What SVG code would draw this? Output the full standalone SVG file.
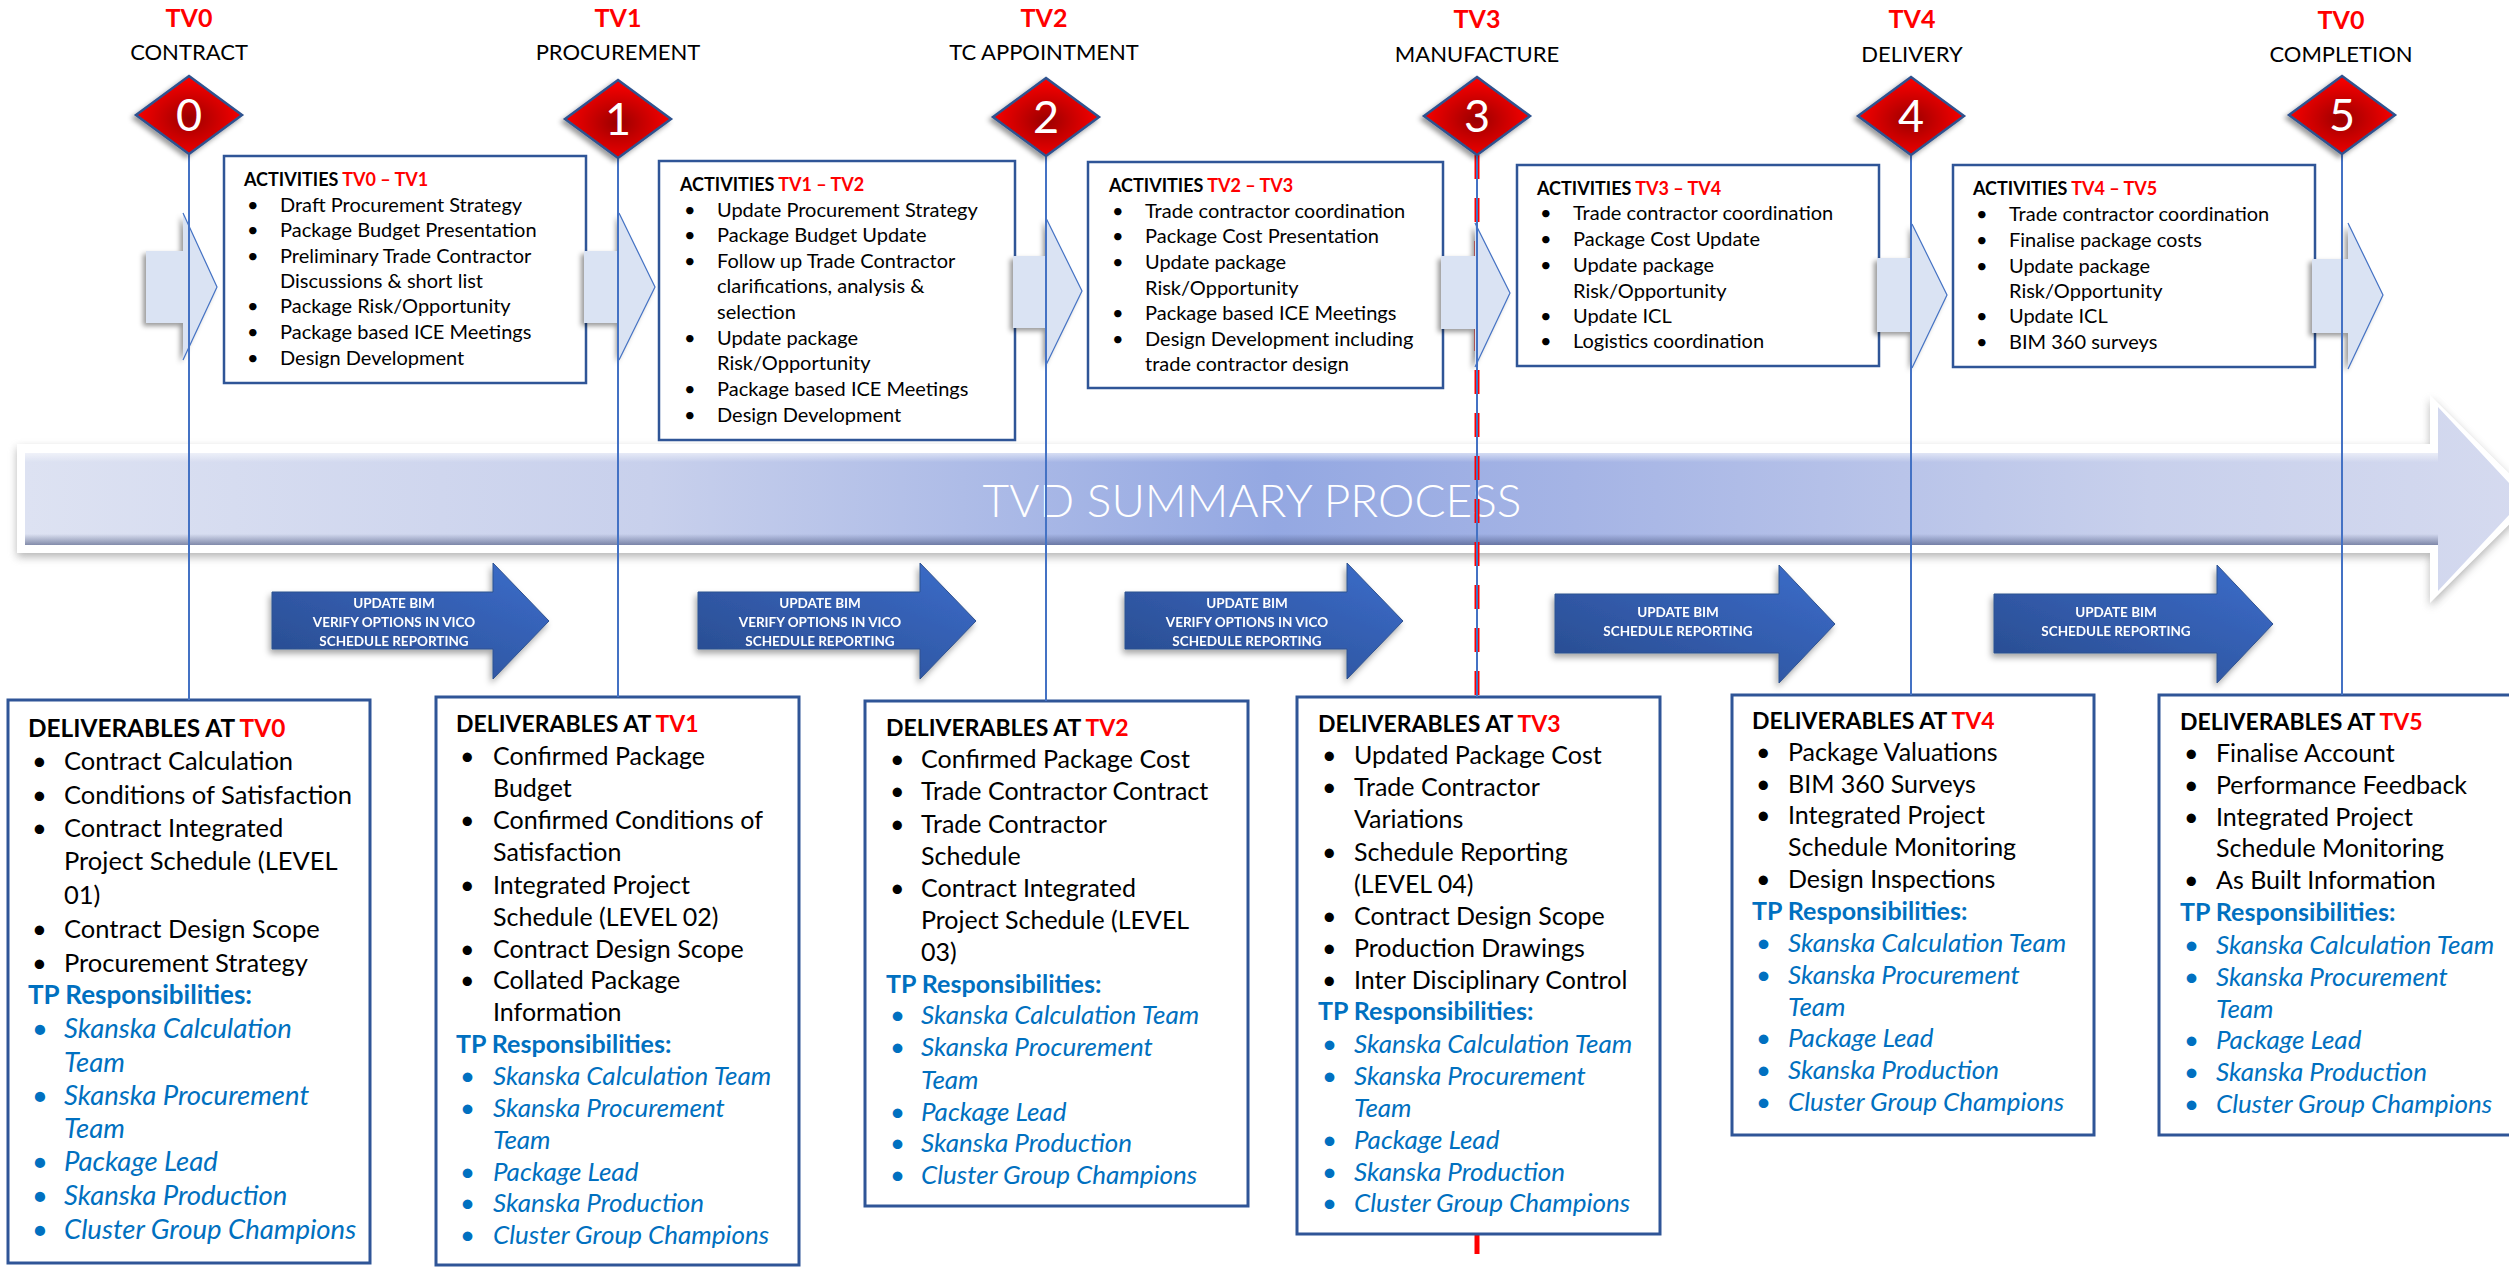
<svg xmlns="http://www.w3.org/2000/svg" width="2509" height="1268" viewBox="0 0 2509 1268">
<style>
text{font-family:Lato,"Liberation Sans",sans-serif;fill:#000}
.lbl{font-size:22px;text-anchor:middle}
.tv{font-size:25px;font-weight:700;fill:#FF0000;text-anchor:middle}
.dig{font-size:45px;fill:#fff;text-anchor:middle}
.act{font-size:20px}
.acth{font-size:18px;font-weight:700}
.del{font-size:25px}
.del0{font-size:25.5px}
.delh{font-size:23px;font-weight:700}
.tp{font-size:25px;font-weight:700;fill:#0070C0}
.tpi{font-size:26px;font-style:italic;fill:#0070C0}
.r{fill:#FF0000}
.arr{font-size:13.5px;font-weight:700;fill:#fff;text-anchor:middle}
.big{font-size:46px;font-weight:300;fill:#fff;text-anchor:middle}
.box{fill:#fff;stroke:#2F5597;stroke-width:3}
.abox{fill:#fff;stroke:#2F5597;stroke-width:2.5}
.chev{fill:#DAE3F3}
.chevl{fill:none;stroke:#4472C4;stroke-width:1.2}
.dark{fill:url(#dk);stroke:#2F528F;stroke-width:1}
.dia{fill:url(#dg);stroke:#2F528F;stroke-width:2.5}
.vl{stroke:#4472C4;stroke-width:2;fill:none}
</style>
<defs>
<radialGradient id="dg" cx="0.5" cy="0.55" r="0.55">
<stop offset="0" stop-color="#9A0000"/>
<stop offset="0.4" stop-color="#C40000"/>
<stop offset="1" stop-color="#FF0000"/>
</radialGradient>
<linearGradient id="dk" x1="0" y1="1" x2="1" y2="0">
<stop offset="0" stop-color="#284A8C"/>
<stop offset="1" stop-color="#3C6DCB"/>
</linearGradient>
<linearGradient id="bigg" gradientUnits="userSpaceOnUse" x1="25" y1="0" x2="2525" y2="0">
<stop offset="0" stop-color="#DDE2F2"/>
<stop offset="0.25" stop-color="#C8D0EC"/>
<stop offset="0.5" stop-color="#94A8E2"/>
<stop offset="0.62" stop-color="#A5B4E5"/>
<stop offset="0.85" stop-color="#C8D0EC"/>
<stop offset="1" stop-color="#D5DAEF"/>
</linearGradient>
<linearGradient id="bev" x1="0" y1="0" x2="0" y2="1">
<stop offset="0" stop-color="#FFFFFF" stop-opacity="0.55"/>
<stop offset="0.1" stop-color="#FFFFFF" stop-opacity="0"/>
<stop offset="0.88" stop-color="#3A4670" stop-opacity="0"/>
<stop offset="1" stop-color="#3A4670" stop-opacity="0.55"/>
</linearGradient>
<filter id="blur" x="-5%" y="-30%" width="110%" height="160%"><feGaussianBlur stdDeviation="4"/></filter>
<filter id="sh" x="-30%" y="-30%" width="160%" height="160%"><feDropShadow dx="-3" dy="3" stdDeviation="2.5" flood-color="#000" flood-opacity="0.4"/></filter>
<filter id="sh2" x="-30%" y="-30%" width="160%" height="160%"><feDropShadow dx="-2" dy="4" stdDeviation="3" flood-color="#000" flood-opacity="0.35"/></filter>
</defs>

<g id="summary-arrow">
<polygon points="17,444 2430,444 2430,395 2535,499 2430,603 2430,553 17,553" fill="#7A7A7A" opacity="0.55" transform="translate(0,4)" filter="url(#blur)"/>
<polygon points="17,444 2430,444 2430,395 2535,499 2430,603 2430,553 17,553" fill="#FFFFFF"/>
<polygon points="25,453 2438,453 2438,407 2524,499 2438,591 2438,545 25,545" fill="url(#bigg)"/>
<rect x="25" y="453" width="2413" height="92" fill="url(#bev)"/>
<text class="big" x="1252" y="517">TVD SUMMARY PROCESS</text>
</g>

<g id="tv3-marker">
<line x1="1477" y1="155" x2="1477" y2="1268" stroke="#FF0000" stroke-width="5" stroke-dasharray="24 19"/>
</g>

<g id="bim-arrows">
<g id="bim1" filter="url(#sh2)">
<polygon class="dark" points="272,592 493,592 493,563 549,621 493,679 493,649 272,649"/>
<text class="arr" x="394" y="608">UPDATE BIM</text>
<text class="arr" x="394" y="627">VERIFY OPTIONS IN VICO</text>
<text class="arr" x="394" y="646">SCHEDULE REPORTING</text>
</g>
<g id="bim2" filter="url(#sh2)">
<polygon class="dark" points="698,592 920,592 920,563 976,621 920,679 920,649 698,649"/>
<text class="arr" x="820" y="608">UPDATE BIM</text>
<text class="arr" x="820" y="627">VERIFY OPTIONS IN VICO</text>
<text class="arr" x="820" y="646">SCHEDULE REPORTING</text>
</g>
<g id="bim3" filter="url(#sh2)">
<polygon class="dark" points="1125,592 1347,592 1347,563 1403,621 1347,679 1347,649 1125,649"/>
<text class="arr" x="1247" y="608">UPDATE BIM</text>
<text class="arr" x="1247" y="627">VERIFY OPTIONS IN VICO</text>
<text class="arr" x="1247" y="646">SCHEDULE REPORTING</text>
</g>
<g id="bim4" filter="url(#sh2)">
<polygon class="dark" points="1555,594 1779,594 1779,565 1835,624 1779,683 1779,653 1555,653"/>
<text class="arr" x="1678" y="617">UPDATE BIM</text>
<text class="arr" x="1678" y="636">SCHEDULE REPORTING</text>
</g>
<g id="bim5" filter="url(#sh2)">
<polygon class="dark" points="1994,594 2217,594 2217,565 2273,624 2217,683 2217,653 1994,653"/>
<text class="arr" x="2116" y="617">UPDATE BIM</text>
<text class="arr" x="2116" y="636">SCHEDULE REPORTING</text>
</g>
</g>

<g id="activities-tv0-tv1">
<rect class="abox" x="224" y="156" width="362" height="227"/>
<text class="acth" x="244" y="186">ACTIVITIES <tspan class="r">TV0 – TV1</tspan></text>
<text class="act"><tspan x="247" y="212">•</tspan><tspan x="280" y="212">Draft Procurement Strategy</tspan><tspan x="247" y="237">•</tspan><tspan x="280" y="237">Package Budget Presentation</tspan><tspan x="247" y="263">•</tspan><tspan x="280" y="263">Preliminary Trade Contractor</tspan><tspan x="280" y="288">Discussions &amp; short list</tspan><tspan x="247" y="313">•</tspan><tspan x="280" y="313">Package Risk/Opportunity</tspan><tspan x="247" y="339">•</tspan><tspan x="280" y="339">Package based ICE Meetings</tspan><tspan x="247" y="365">•</tspan><tspan x="280" y="365">Design Development</tspan></text>
</g>

<g id="activities-tv1-tv2">
<rect class="abox" x="659" y="161" width="356" height="279"/>
<text class="acth" x="680" y="191">ACTIVITIES <tspan class="r">TV1 – TV2</tspan></text>
<text class="act"><tspan x="684" y="217">•</tspan><tspan x="717" y="217">Update Procurement Strategy</tspan><tspan x="684" y="242">•</tspan><tspan x="717" y="242">Package Budget Update</tspan><tspan x="684" y="268">•</tspan><tspan x="717" y="268">Follow up Trade Contractor</tspan><tspan x="717" y="293">clarifications, analysis &amp;</tspan><tspan x="717" y="319">selection</tspan><tspan x="684" y="345">•</tspan><tspan x="717" y="345">Update package</tspan><tspan x="717" y="370">Risk/Opportunity</tspan><tspan x="684" y="396">•</tspan><tspan x="717" y="396">Package based ICE Meetings</tspan><tspan x="684" y="422">•</tspan><tspan x="717" y="422">Design Development</tspan></text>
</g>

<g id="activities-tv2-tv3">
<rect class="abox" x="1088" y="162" width="355" height="226"/>
<text class="acth" x="1109" y="192">ACTIVITIES <tspan class="r">TV2 – TV3</tspan></text>
<text class="act"><tspan x="1112" y="218">•</tspan><tspan x="1145" y="218">Trade contractor coordination</tspan><tspan x="1112" y="243">•</tspan><tspan x="1145" y="243">Package Cost Presentation</tspan><tspan x="1112" y="269">•</tspan><tspan x="1145" y="269">Update package</tspan><tspan x="1145" y="295">Risk/Opportunity</tspan><tspan x="1112" y="320">•</tspan><tspan x="1145" y="320">Package based ICE Meetings</tspan><tspan x="1112" y="346">•</tspan><tspan x="1145" y="346">Design Development including</tspan><tspan x="1145" y="371">trade contractor design</tspan></text>
</g>

<g id="activities-tv3-tv4">
<rect class="abox" x="1517" y="165" width="362" height="201"/>
<text class="acth" x="1537" y="195">ACTIVITIES <tspan class="r">TV3 – TV4</tspan></text>
<text class="act"><tspan x="1540" y="220">•</tspan><tspan x="1573" y="220">Trade contractor coordination</tspan><tspan x="1540" y="246">•</tspan><tspan x="1573" y="246">Package Cost Update</tspan><tspan x="1540" y="272">•</tspan><tspan x="1573" y="272">Update package</tspan><tspan x="1573" y="298">Risk/Opportunity</tspan><tspan x="1540" y="323">•</tspan><tspan x="1573" y="323">Update ICL</tspan><tspan x="1540" y="348">•</tspan><tspan x="1573" y="348">Logistics coordination</tspan></text>
</g>

<g id="activities-tv4-tv5">
<rect class="abox" x="1953" y="165" width="362" height="202"/>
<text class="acth" x="1973" y="195">ACTIVITIES <tspan class="r">TV4 – TV5</tspan></text>
<text class="act"><tspan x="1976" y="221">•</tspan><tspan x="2009" y="221">Trade contractor coordination</tspan><tspan x="1976" y="247">•</tspan><tspan x="2009" y="247">Finalise package costs</tspan><tspan x="1976" y="273">•</tspan><tspan x="2009" y="273">Update package</tspan><tspan x="2009" y="298">Risk/Opportunity</tspan><tspan x="1976" y="323">•</tspan><tspan x="2009" y="323">Update ICL</tspan><tspan x="1976" y="349">•</tspan><tspan x="2009" y="349">BIM 360 surveys</tspan></text>
</g>

<g id="deliverables-tv0">
<rect class="box" x="8" y="700" width="362" height="563"/>
<text class="delh" x="28" y="737" style="font-size:24.4px">DELIVERABLES AT <tspan class="r">TV0</tspan></text>
<text class="del0"><tspan x="32" y="770">•</tspan><tspan x="64" y="770">Contract Calculation</tspan><tspan x="32" y="804">•</tspan><tspan x="64" y="804">Conditions of Satisfaction</tspan><tspan x="32" y="837">•</tspan><tspan x="64" y="837">Contract Integrated</tspan><tspan x="64" y="870">Project Schedule (LEVEL</tspan><tspan x="64" y="904">01)</tspan><tspan x="32" y="938">•</tspan><tspan x="64" y="938">Contract Design Scope</tspan><tspan x="32" y="972">•</tspan><tspan x="64" y="972">Procurement Strategy</tspan></text>
<text class="tp" x="28" y="1004" style="font-size:26px">TP Responsibilities:</text>
<text class="tpi" style="font-size:27.5px"><tspan x="32" y="1038">•</tspan><tspan x="64" y="1038">Skanska Calculation</tspan><tspan x="64" y="1072">Team</tspan><tspan x="32" y="1105">•</tspan><tspan x="64" y="1105">Skanska Procurement</tspan><tspan x="64" y="1138">Team</tspan><tspan x="32" y="1171">•</tspan><tspan x="64" y="1171">Package Lead</tspan><tspan x="32" y="1205">•</tspan><tspan x="64" y="1205">Skanska Production</tspan><tspan x="32" y="1239">•</tspan><tspan x="64" y="1239">Cluster Group Champions</tspan></text>
</g>

<g id="deliverables-tv1">
<rect class="box" x="436" y="697" width="363" height="568"/>
<text class="delh" x="456" y="732">DELIVERABLES AT <tspan class="r">TV1</tspan></text>
<text class="del"><tspan x="460" y="765">•</tspan><tspan x="493" y="765">Confirmed Package</tspan><tspan x="493" y="797">Budget</tspan><tspan x="460" y="829">•</tspan><tspan x="493" y="829">Confirmed Conditions of</tspan><tspan x="493" y="861">Satisfaction</tspan><tspan x="460" y="894">•</tspan><tspan x="493" y="894">Integrated Project</tspan><tspan x="493" y="926">Schedule (LEVEL 02)</tspan><tspan x="460" y="958">•</tspan><tspan x="493" y="958">Contract Design Scope</tspan><tspan x="460" y="989">•</tspan><tspan x="493" y="989">Collated Package</tspan><tspan x="493" y="1021">Information</tspan></text>
<text class="tp" x="456" y="1053">TP Responsibilities:</text>
<text class="tpi"><tspan x="460" y="1085">•</tspan><tspan x="493" y="1085">Skanska Calculation Team</tspan><tspan x="460" y="1117">•</tspan><tspan x="493" y="1117">Skanska Procurement</tspan><tspan x="493" y="1149">Team</tspan><tspan x="460" y="1181">•</tspan><tspan x="493" y="1181">Package Lead</tspan><tspan x="460" y="1212">•</tspan><tspan x="493" y="1212">Skanska Production</tspan><tspan x="460" y="1244">•</tspan><tspan x="493" y="1244">Cluster Group Champions</tspan></text>
</g>

<g id="deliverables-tv2">
<rect class="box" x="865" y="701" width="383" height="505"/>
<text class="delh" x="886" y="736">DELIVERABLES AT <tspan class="r">TV2</tspan></text>
<text class="del"><tspan x="890" y="768">•</tspan><tspan x="921" y="768">Confirmed Package Cost</tspan><tspan x="890" y="800">•</tspan><tspan x="921" y="800">Trade Contractor Contract</tspan><tspan x="890" y="833">•</tspan><tspan x="921" y="833">Trade Contractor</tspan><tspan x="921" y="865">Schedule</tspan><tspan x="890" y="897">•</tspan><tspan x="921" y="897">Contract Integrated</tspan><tspan x="921" y="929">Project Schedule (LEVEL</tspan><tspan x="921" y="961">03)</tspan></text>
<text class="tp" x="886" y="993">TP Responsibilities:</text>
<text class="tpi"><tspan x="890" y="1024">•</tspan><tspan x="921" y="1024">Skanska Calculation Team</tspan><tspan x="890" y="1056">•</tspan><tspan x="921" y="1056">Skanska Procurement</tspan><tspan x="921" y="1089">Team</tspan><tspan x="890" y="1121">•</tspan><tspan x="921" y="1121">Package Lead</tspan><tspan x="890" y="1152">•</tspan><tspan x="921" y="1152">Skanska Production</tspan><tspan x="890" y="1184">•</tspan><tspan x="921" y="1184">Cluster Group Champions</tspan></text>
</g>

<g id="deliverables-tv3">
<rect class="box" x="1297" y="697" width="363" height="537"/>
<text class="delh" x="1318" y="732">DELIVERABLES AT <tspan class="r">TV3</tspan></text>
<text class="del"><tspan x="1322" y="764">•</tspan><tspan x="1354" y="764">Updated Package Cost</tspan><tspan x="1322" y="796">•</tspan><tspan x="1354" y="796">Trade Contractor</tspan><tspan x="1354" y="828">Variations</tspan><tspan x="1322" y="861">•</tspan><tspan x="1354" y="861">Schedule Reporting</tspan><tspan x="1354" y="893">(LEVEL 04)</tspan><tspan x="1322" y="925">•</tspan><tspan x="1354" y="925">Contract Design Scope</tspan><tspan x="1322" y="957">•</tspan><tspan x="1354" y="957">Production Drawings</tspan><tspan x="1322" y="989">•</tspan><tspan x="1354" y="989">Inter Disciplinary Control</tspan></text>
<text class="tp" x="1318" y="1020">TP Responsibilities:</text>
<text class="tpi"><tspan x="1322" y="1053">•</tspan><tspan x="1354" y="1053">Skanska Calculation Team</tspan><tspan x="1322" y="1085">•</tspan><tspan x="1354" y="1085">Skanska Procurement</tspan><tspan x="1354" y="1117">Team</tspan><tspan x="1322" y="1149">•</tspan><tspan x="1354" y="1149">Package Lead</tspan><tspan x="1322" y="1181">•</tspan><tspan x="1354" y="1181">Skanska Production</tspan><tspan x="1322" y="1212">•</tspan><tspan x="1354" y="1212">Cluster Group Champions</tspan></text>
</g>

<g id="deliverables-tv4">
<rect class="box" x="1732" y="695" width="362" height="440"/>
<text class="delh" x="1752" y="729">DELIVERABLES AT <tspan class="r">TV4</tspan></text>
<text class="del"><tspan x="1756" y="761">•</tspan><tspan x="1788" y="761">Package Valuations</tspan><tspan x="1756" y="793">•</tspan><tspan x="1788" y="793">BIM 360 Surveys</tspan><tspan x="1756" y="824">•</tspan><tspan x="1788" y="824">Integrated Project</tspan><tspan x="1788" y="856">Schedule Monitoring</tspan><tspan x="1756" y="888">•</tspan><tspan x="1788" y="888">Design Inspections</tspan></text>
<text class="tp" x="1752" y="920">TP Responsibilities:</text>
<text class="tpi"><tspan x="1756" y="952">•</tspan><tspan x="1788" y="952">Skanska Calculation Team</tspan><tspan x="1756" y="984">•</tspan><tspan x="1788" y="984">Skanska Procurement</tspan><tspan x="1788" y="1016">Team</tspan><tspan x="1756" y="1047">•</tspan><tspan x="1788" y="1047">Package Lead</tspan><tspan x="1756" y="1079">•</tspan><tspan x="1788" y="1079">Skanska Production</tspan><tspan x="1756" y="1111">•</tspan><tspan x="1788" y="1111">Cluster Group Champions</tspan></text>
</g>

<g id="deliverables-tv5">
<rect class="box" x="2159" y="695" width="360" height="440"/>
<text class="delh" x="2180" y="730">DELIVERABLES AT <tspan class="r">TV5</tspan></text>
<text class="del"><tspan x="2184" y="762">•</tspan><tspan x="2216" y="762">Finalise Account</tspan><tspan x="2184" y="794">•</tspan><tspan x="2216" y="794">Performance Feedback</tspan><tspan x="2184" y="826">•</tspan><tspan x="2216" y="826">Integrated Project</tspan><tspan x="2216" y="857">Schedule Monitoring</tspan><tspan x="2184" y="889">•</tspan><tspan x="2216" y="889">As Built Information</tspan></text>
<text class="tp" x="2180" y="921">TP Responsibilities:</text>
<text class="tpi"><tspan x="2184" y="954">•</tspan><tspan x="2216" y="954">Skanska Calculation Team</tspan><tspan x="2184" y="986">•</tspan><tspan x="2216" y="986">Skanska Procurement</tspan><tspan x="2216" y="1018">Team</tspan><tspan x="2184" y="1049">•</tspan><tspan x="2216" y="1049">Package Lead</tspan><tspan x="2184" y="1081">•</tspan><tspan x="2216" y="1081">Skanska Production</tspan><tspan x="2184" y="1113">•</tspan><tspan x="2216" y="1113">Cluster Group Champions</tspan></text>
</g>

<g id="stage-arrows">
<g id="stage-arrow-0"><polygon class="chev" filter="url(#sh)" points="146,251 183,251 183,213 217,287 183,360 183,323 146,323"/><polyline class="chevl" points="183,213 217,287 183,360"/></g>
<g id="stage-arrow-1"><polygon class="chev" filter="url(#sh)" points="584,251 619,251 619,213 655,287 619,360 619,323 584,323"/><polyline class="chevl" points="619,213 655,287 619,360"/></g>
<g id="stage-arrow-2"><polygon class="chev" filter="url(#sh)" points="1013,256 1046,256 1046,218 1082,291 1046,365 1046,328 1013,328"/><polyline class="chevl" points="1046,218 1082,291 1046,365"/></g>
<g id="stage-arrow-3"><polygon class="chev" filter="url(#sh)" points="1441,256 1475,256 1475,223 1510,293 1475,367 1475,329 1441,329"/><polyline class="chevl" points="1475,223 1510,293 1475,367"/></g>
<g id="stage-arrow-4"><polygon class="chev" filter="url(#sh)" points="1877,258 1912,258 1912,224 1947,295 1912,368 1912,332 1877,332"/><polyline class="chevl" points="1912,224 1947,295 1912,368"/></g>
<g id="stage-arrow-5"><polygon class="chev" filter="url(#sh)" points="2312,259 2348,259 2348,223 2383,295 2348,369 2348,333 2312,333"/><polyline class="chevl" points="2348,223 2383,295 2348,369"/></g>
</g>

<g id="connectors">
<line class="vl" x1="189" y1="154" x2="189" y2="700"/>
<line class="vl" x1="618" y1="158" x2="618" y2="697"/>
<line class="vl" x1="1046" y1="156" x2="1046" y2="701"/>
<line class="vl" x1="1477" y1="155" x2="1477" y2="697"/>
<line class="vl" x1="1911" y1="155" x2="1911" y2="695"/>
<line class="vl" x1="2342" y1="154" x2="2342" y2="695"/>
</g>

<g id="milestone-0">
<text class="tv" x="189" y="27">TV0</text>
<text class="lbl" x="189" y="60">CONTRACT</text>
<polygon class="dia" filter="url(#sh)" points="189,76 242,115 189,154 136,115"/>
<text class="dig" x="189" y="131">0</text>
</g>
<g id="milestone-1">
<text class="tv" x="618" y="27">TV1</text>
<text class="lbl" x="618" y="60">PROCUREMENT</text>
<polygon class="dia" filter="url(#sh)" points="618,80 671,119 618,158 565,119"/>
<text class="dig" x="618" y="135">1</text>
</g>
<g id="milestone-2">
<text class="tv" x="1044" y="27">TV2</text>
<text class="lbl" x="1044" y="60">TC APPOINTMENT</text>
<polygon class="dia" filter="url(#sh)" points="1046,78 1099,117 1046,156 993,117"/>
<text class="dig" x="1046" y="133">2</text>
</g>
<g id="milestone-3">
<text class="tv" x="1477" y="28">TV3</text>
<text class="lbl" x="1477" y="62">MANUFACTURE</text>
<polygon class="dia" filter="url(#sh)" points="1477,77 1530,116 1477,155 1424,116"/>
<text class="dig" x="1477" y="132">3</text>
</g>
<g id="milestone-4">
<text class="tv" x="1912" y="28">TV4</text>
<text class="lbl" x="1912" y="62">DELIVERY</text>
<polygon class="dia" filter="url(#sh)" points="1911,77 1964,116 1911,155 1858,116"/>
<text class="dig" x="1911" y="132">4</text>
</g>
<g id="milestone-5">
<text class="tv" x="2341" y="29">TV0</text>
<text class="lbl" x="2341" y="62">COMPLETION</text>
<polygon class="dia" filter="url(#sh)" points="2342,76 2395,115 2342,154 2289,115"/>
<text class="dig" x="2342" y="131">5</text>
</g>
</svg>
